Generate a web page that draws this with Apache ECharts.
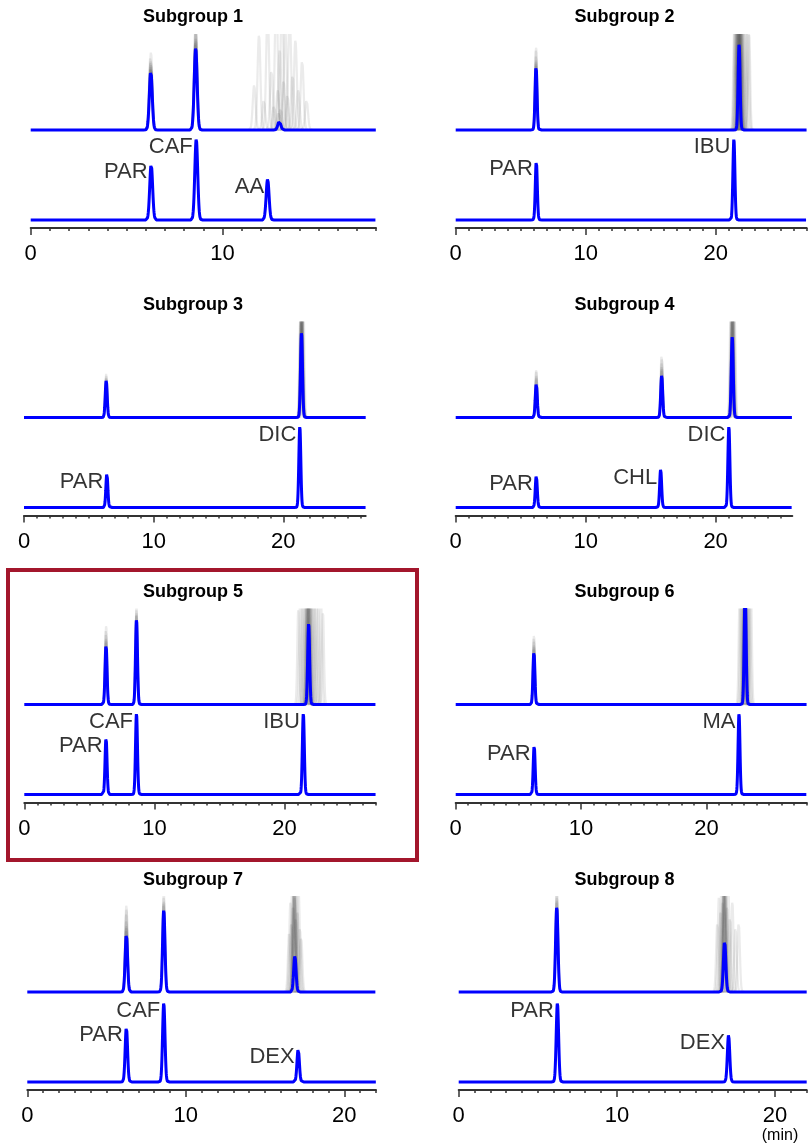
<!DOCTYPE html>
<html>
<head>
<meta charset="utf-8">
<script src="https://cdn.jsdelivr.net/npm/echarts@6/dist/echarts.min.js"></script>
<style>
  html, body { margin: 0; padding: 0; background: #ffffff; }
  #chart { width: 811px; height: 1143px; }
</style>
</head>
<body>
<div id="chart"></div>
<script>
// ---------- data ----------
const titles = ['Subgroup 1', 'Subgroup 2', 'Subgroup 3', 'Subgroup 4',
                'Subgroup 5', 'Subgroup 6', 'Subgroup 7', 'Subgroup 8'];

// time axis end (min) and labelled ticks for each subgroup
const axisMax = [18, 27, 26.35, 25.9, 27, 28, 22, 22];
const majorTicks = [[0, 10], [0, 10, 20], [0, 10, 20], [0, 10, 20],
                    [0, 10, 20], [0, 10, 20], [0, 10, 20], [0, 10, 20]];

// measured chromatogram (lower trace): compound, retention time (min), peak height
const refNames = [
  ['PAR', 'CAF', 'AA'], ['PAR', 'IBU'], ['PAR', 'DIC'], ['PAR', 'CHL', 'DIC'],
  ['PAR', 'CAF', 'IBU'], ['PAR', 'MA'], ['PAR', 'CAF', 'DEX'], ['PAR', 'DEX']
];
const refTimes = [
  [6.28, 8.63, 12.35], [6.2, 21.4], [6.39, 21.27], [6.2, 15.77, 21.02],
  [6.28, 8.62, 21.44], [6.26, 22.6], [6.25, 8.61, 17.09], [6.24, 17.06]
];
const refHeights = [
  [56, 81, 41], [59, 81], [34, 81], [32, 38, 81],
  [57, 81, 81], [49, 81], [55, 79, 33], [79, 47]
];

// predicted chromatogram (upper trace)
const predTimes = [
  [6.26, 8.6, 12.96], [6.18, 21.8], [6.34, 21.4], [6.2, 15.85, 21.28],
  [6.28, 8.62, 21.85], [6.24, 23.09], [6.25, 8.61, 16.88], [6.2, 16.81]
];
const predHeights = [
  [59, 82, 9], [64, 86], [37, 85], [34, 42, 81],
  [60, 85, 81], [53, 115], [58, 82, 36], [85, 51]
];

// simulated replicate predictions shown in grey: [retention time, peak height]
const ens1 = [[6.25, 63], [6.27, 67], [6.26, 71], [6.24, 74], [6.27, 78], [6.26, 65], [6.25, 69], [6.28, 62],
  [8.59, 88], [8.61, 92], [8.60, 97], [8.62, 102], [8.58, 86], [8.60, 110], [8.61, 90], [8.59, 100],
  [11.65, 45], [11.9, 95], [12.15, 30], [12.35, 120], [12.55, 60], [12.68, 25], [12.8, 140], [12.88, 40],
  [12.93, 18], [12.98, 80], [13.03, 22], [13.1, 130], [13.18, 50], [13.27, 100], [13.38, 35], [13.5, 115],
  [13.65, 55], [13.8, 90], [13.95, 40], [14.15, 70], [14.38, 30]];
const ens2 = [[6.17, 68], [6.19, 72], [6.18, 76], [6.17, 80], [6.19, 83], [6.18, 70], [6.18, 66],
  [21.42, 100], [21.48, 108], [21.52, 115], [21.58, 105], [21.62, 118], [21.64, 125], [21.69, 110],
  [21.71, 122], [21.73, 130], [21.75, 116], [21.77, 120], [21.8, 140], [21.82, 126], [21.83, 118],
  [21.87, 135], [21.89, 120], [21.91, 112], [21.94, 124], [21.96, 128], [22.0, 114], [22.02, 108],
  [22.08, 122], [22.15, 104], [22.25, 116], [22.38, 98], [22.5, 110], [22.58, 96]];
const ens3 = [[6.33, 40], [6.35, 42], [6.34, 44], [6.34, 39],
  [21.3, 98], [21.34, 110], [21.37, 104], [21.4, 120], [21.43, 108], [21.46, 116], [21.5, 100],
  [21.55, 112], [21.38, 95], [21.42, 130], [21.36, 118], [21.44, 124]];
const ens4 = [[6.19, 38], [6.21, 42], [6.2, 46], [6.2, 49], [6.21, 40],
  [15.84, 47], [15.86, 52], [15.85, 56], [15.87, 60], [15.84, 63], [15.86, 50],
  [21.15, 100], [21.2, 112], [21.24, 96], [21.27, 120], [21.3, 106], [21.33, 115], [21.37, 102],
  [21.42, 110], [21.47, 98], [21.29, 130], [21.26, 108], [21.32, 125]];
const ens5 = [[6.27, 64], [6.29, 68], [6.28, 72], [6.27, 76], [6.29, 79], [6.28, 66],
  [8.61, 89], [8.63, 92], [8.62, 95], [8.62, 99], [8.61, 90],
  [21.05, 95], [21.2, 110], [21.35, 100], [21.48, 120], [21.58, 105], [21.66, 125], [21.73, 112],
  [21.79, 130], [21.84, 118], [21.9, 135], [21.96, 115], [22.03, 128], [22.1, 106], [22.2, 122],
  [22.32, 100], [22.45, 114], [22.6, 98], [22.8, 104], [22.95, 92], [21.76, 122], [21.82, 110],
  [21.87, 126], [21.93, 120], [21.7, 104]];
const ens6 = [[6.23, 57], [6.25, 61], [6.24, 65], [6.23, 68], [6.25, 71], [6.24, 59],
  [22.65, 110], [22.75, 125], [22.85, 118], [22.93, 130], [22.98, 122], [23.03, 140], [23.07, 128],
  [23.11, 135], [23.15, 124], [23.2, 132], [23.27, 120], [23.35, 126], [23.45, 112], [23.55, 118],
  [23.05, 118], [23.09, 126], [23.13, 130], [23.0, 112]];
const ens7 = [[6.24, 63], [6.26, 68], [6.25, 73], [6.24, 78], [6.26, 83], [6.25, 87], [6.25, 66],
  [8.6, 87], [8.62, 91], [8.61, 95], [8.61, 100], [8.6, 89],
  [16.52, 60], [16.6, 90], [16.66, 70], [16.72, 110], [16.77, 85], [16.82, 120], [16.86, 95],
  [16.9, 105], [16.94, 75], [16.99, 115], [17.05, 80], [17.12, 100], [17.2, 65], [17.28, 55],
  [16.84, 110], [16.88, 125], [16.8, 100]];
const ens8 = [[6.19, 90], [6.21, 95], [6.2, 100], [6.2, 105], [6.21, 92],
  [16.35, 70], [16.45, 95], [16.55, 80], [16.62, 110], [16.68, 90], [16.73, 120], [16.77, 100],
  [16.81, 130], [16.85, 105], [16.9, 115], [16.96, 85], [17.05, 100], [17.15, 75], [17.3, 90],
  [17.5, 65], [17.7, 70], [16.79, 118], [16.83, 124], [16.75, 112]];
const ensembles = [ens1, ens2, ens3, ens4, ens5, ens6, ens7, ens8];

// ---------- layout ----------
const STEP = 0.01;        // sampling step along the time axis (min)
const SIGMA = 0.075;      // peak width (min)
const OFFSET = 90;        // vertical offset of the upper trace
const Y_MIN = -8, Y_MAX = 185;
const GRID_H = 193;
// [left, top, width] of each plot area
const boxes = [
  [30.7, 35, 345.3], [455.7, 35, 351],
  [24, 322.5, 341.7], [455.7, 322.5, 336.6],
  [24.3, 609.5, 351.4], [455.7, 609.5, 351],
  [27.3, 897, 348.7], [458.7, 897, 348]
];
const titlePos = [[193, 17.5], [624.5, 17.5], [193, 305], [624.5, 305],
                  [193, 592], [624.5, 592], [193, 880], [624.5, 880]];

const FONT = "'Liberation Sans', Arial, Helvetica, sans-serif";
const BLUE = '#0000ff';
const INK = '#000000';

function peakSum(t, times, heights) {
  let y = 0;
  for (let k = 0; k < times.length; k++) {
    const d = (t - times[k]) / SIGMA;
    y += heights[k] * Math.exp(-0.5 * d * d);
  }
  return y;
}

function trace(times, heights, offset, tmax) {
  const pts = [];
  const n = Math.ceil(tmax / STEP);
  for (let i = 0; i <= n; i++) {
    const t = Math.min(i * STEP, tmax);
    pts.push([t, offset + peakSum(t, times, heights)]);
  }
  return pts;
}

function singlePeak(t0, h, offset) {
  const pts = [];
  for (let t = t0 - 0.4; t <= t0 + 0.4 + 1e-9; t += STEP) {
    pts.push([t, offset + peakSum(t, [t0], [h])]);
  }
  return pts;
}

const grid = [], xAxis = [], yAxis = [], series = [], graphic = [];

for (let p = 0; p < 8; p++) {
  const [left, top, width] = boxes[p];
  grid.push({ left: left, top: top, width: width, height: GRID_H, containLabel: false, outerBoundsMode: 'none' });

  const minor = [];
  for (let v = 0; v <= Math.floor(axisMax[p]); v++) minor.push(v);

  // axis line with 1-min minor ticks
  xAxis.push({
    gridIndex: p, type: 'value', min: 0, max: axisMax[p], position: 'bottom',
    axisLine: { show: true, onZero: false, lineStyle: { color: '#333', width: 2 } },
    axisTick: { show: true, length: 3, customValues: minor, lineStyle: { color: '#333', width: 1.5 } },
    axisLabel: { show: false }, splitLine: { show: false }
  });
  // labelled major ticks
  xAxis.push({
    gridIndex: p, type: 'value', min: 0, max: axisMax[p], position: 'bottom',
    axisLine: { show: false, onZero: false },
    axisTick: { show: true, length: 7, customValues: majorTicks[p], lineStyle: { color: '#333', width: 1.5 } },
    axisLabel: { show: true, customValues: majorTicks[p], margin: 15, fontSize: 22, color: INK, fontFamily: FONT },
    splitLine: { show: false }
  });
  yAxis.push({ gridIndex: p, type: 'value', min: Y_MIN, max: Y_MAX, show: false });

  const xi = 2 * p;

  // grey replicate predictions
  ensembles[p].forEach(function (m) {
    series.push({
      type: 'line', xAxisIndex: xi, yAxisIndex: p, data: singlePeak(m[0], m[1], OFFSET),
      showSymbol: false, symbol: 'none', clip: true, silent: true, z: 2,
      lineStyle: { color: 'rgba(30,30,30,0.09)', width: 2.2 }
    });
  });

  // predicted trace
  series.push({
    type: 'line', xAxisIndex: xi, yAxisIndex: p,
    data: trace(predTimes[p], predHeights[p], OFFSET, axisMax[p]),
    showSymbol: false, symbol: 'none', clip: true, silent: true, z: 4,
    lineStyle: { color: BLUE, width: 3 }
  });
  // measured trace
  series.push({
    type: 'line', xAxisIndex: xi, yAxisIndex: p,
    data: trace(refTimes[p], refHeights[p], 0, axisMax[p]),
    showSymbol: false, symbol: 'none', clip: true, silent: true, z: 4,
    lineStyle: { color: BLUE, width: 3 }
  });
  // compound names beside the measured peaks
  series.push({
    type: 'scatter', xAxisIndex: xi, yAxisIndex: p, silent: true, z: 5,
    symbolSize: 1, itemStyle: { color: 'rgba(0,0,0,0)' },
    data: refNames[p].map(function (n, k) { return { name: n, value: [refTimes[p][k], refHeights[p][k]] }; }),
    label: {
      show: true, position: 'left', distance: 3, offset: [0, 8], formatter: '{b}',
      fontSize: 22, color: INK, fontFamily: FONT
    }
  });

  graphic.push({
    type: 'text', x: titlePos[p][0], y: titlePos[p][1], silent: true,
    style: {
      text: titles[p], fill: INK, font: 'bold 18px ' + FONT,
      align: 'center', verticalAlign: 'middle', textAlign: 'center', textVerticalAlign: 'middle'
    }
  });
}

// frame around Subgroup 5
graphic.push({
  type: 'rect', silent: true, z: 10,
  shape: { x: 8, y: 570, width: 409, height: 290 },
  style: { fill: 'none', stroke: '#a3162c', lineWidth: 4 }
});
// time unit
graphic.push({
  type: 'text', x: 780, y: 1136, silent: true,
  style: {
    text: '(min)', fill: INK, font: '16px ' + FONT,
    align: 'center', verticalAlign: 'middle', textAlign: 'center', textVerticalAlign: 'middle'
  }
});

const chart = echarts.init(document.getElementById('chart'), null, { renderer: 'canvas' });
chart.setOption({
  animation: false,
  backgroundColor: '#ffffff',
  grid: grid, xAxis: xAxis, yAxis: yAxis, series: series, graphic: graphic
});
</script>
</body>
</html>
